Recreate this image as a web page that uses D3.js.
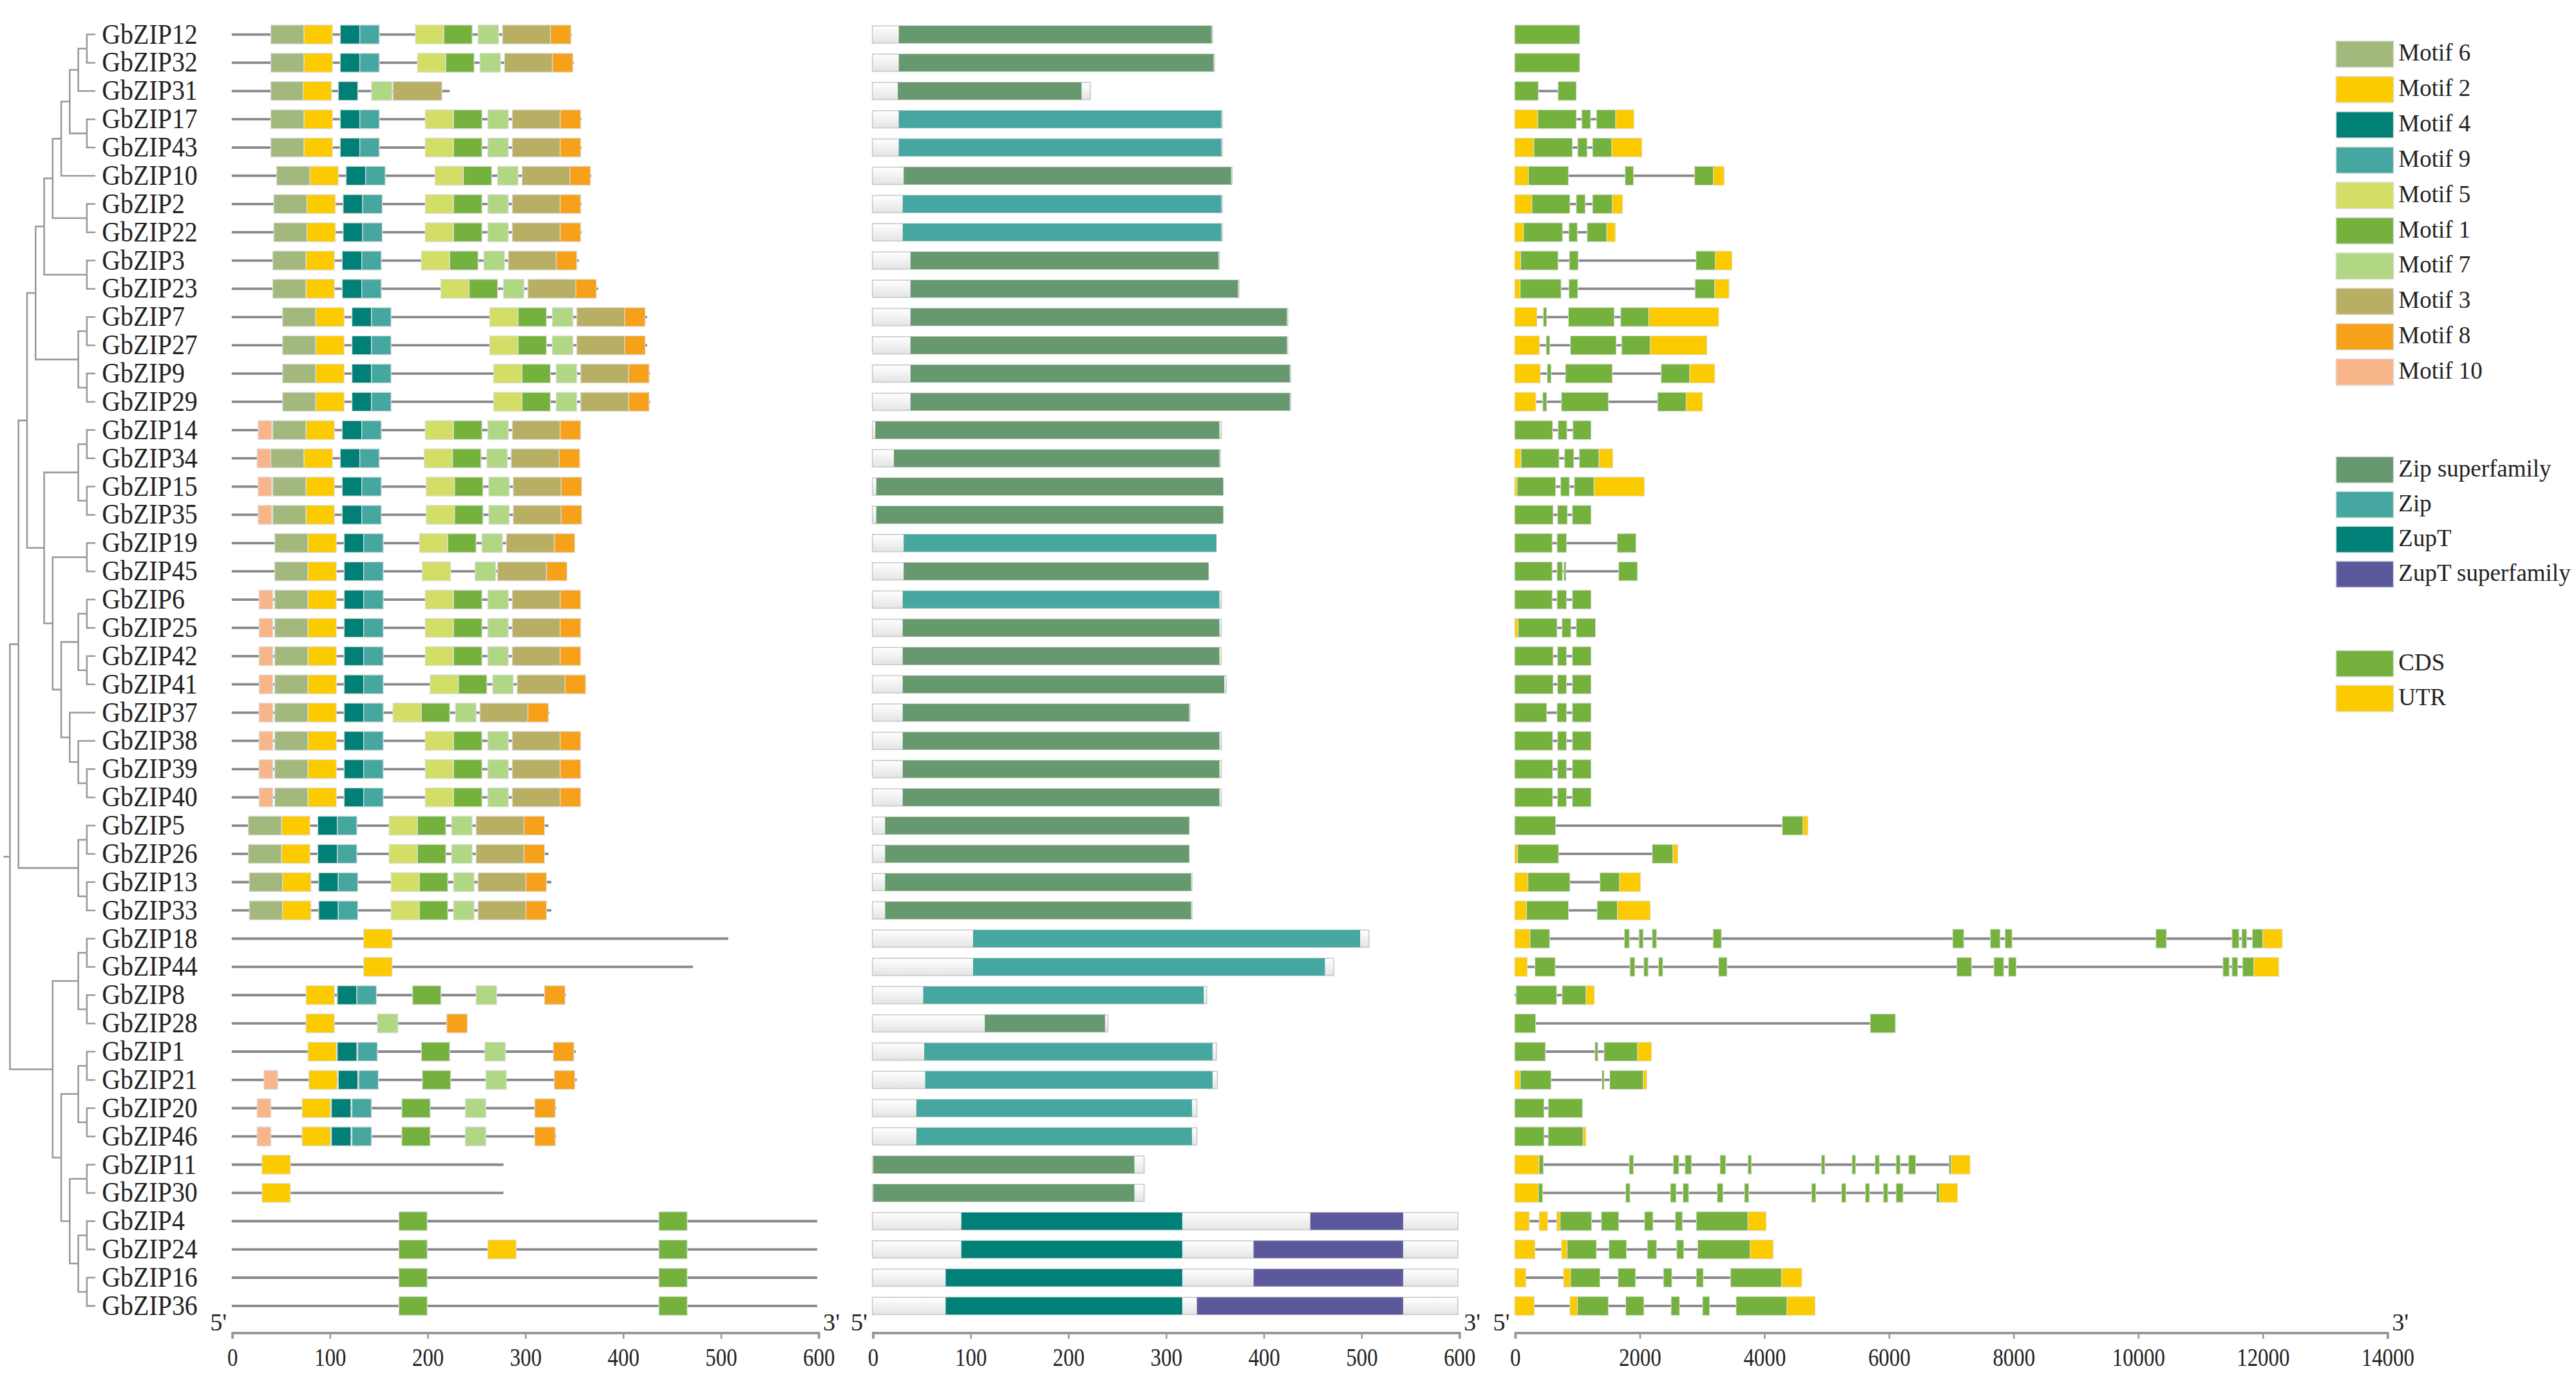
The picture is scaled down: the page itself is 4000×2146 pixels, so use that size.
<!DOCTYPE html>
<html>
<head>
<meta charset="utf-8">
<script src="https://cdn.jsdelivr.net/npm/d3@7"></script>
<style>
  body { margin: 0; background: #fff; }
  text { font-family: "Liberation Serif", "DejaVu Serif", serif; fill: #222; }
</style>
</head>
<body>
<script>
// rows, top to bottom (leaf order of the tree)
const genes = ["GbZIP12","GbZIP32","GbZIP31","GbZIP17","GbZIP43","GbZIP10","GbZIP2","GbZIP22","GbZIP3","GbZIP23",
  "GbZIP7","GbZIP27","GbZIP9","GbZIP29","GbZIP14","GbZIP34","GbZIP15","GbZIP35","GbZIP19","GbZIP45",
  "GbZIP6","GbZIP25","GbZIP42","GbZIP41","GbZIP37","GbZIP38","GbZIP39","GbZIP40","GbZIP5","GbZIP26",
  "GbZIP13","GbZIP33","GbZIP18","GbZIP44","GbZIP8","GbZIP28","GbZIP1","GbZIP21","GbZIP20","GbZIP46",
  "GbZIP11","GbZIP30","GbZIP4","GbZIP24","GbZIP16","GbZIP36"]

// tree topology (nested)
const treeA1 = [[[[["GbZIP12","GbZIP32"],"GbZIP31"],["GbZIP17","GbZIP43"]],"GbZIP10"],["GbZIP2","GbZIP22"]]
const treeA = [[treeA1,["GbZIP3","GbZIP23"]],[["GbZIP7","GbZIP27"],["GbZIP9","GbZIP29"]]]
const treeB = [[["GbZIP14","GbZIP34"],["GbZIP15","GbZIP35"]],[["GbZIP19","GbZIP45"],[[["GbZIP6","GbZIP25"],["GbZIP42","GbZIP41"]],["GbZIP37",["GbZIP38",["GbZIP39","GbZIP40"]]]]]]
const treeC = [["GbZIP5","GbZIP26"],["GbZIP13","GbZIP33"]]
const treeD = [[["GbZIP18","GbZIP44"],["GbZIP8","GbZIP28"]],[[["GbZIP1","GbZIP21"],["GbZIP20","GbZIP46"]],[["GbZIP11","GbZIP30"],[["GbZIP4","GbZIP24"],["GbZIP16","GbZIP36"]]]]]
const treeRoot = [[[treeA, treeB], treeC], treeD]

// motif legend
const motifNames = [6,2,4,9,5,1,7,3,8,10]
const motifColors = ["#a3b87c","#fbcb00","#008076","#45a7a0","#d3de66","#74b23d","#b0d784","#b8ae64","#f7a11a","#f9b58a"]
const motifWidth = {1:29, 2:29, 3:50, 4:20, 5:29, 6:34, 7:21, 8:21, 9:20, 10:14}

// protein length (aa)
const protLen = [348,350,223,358,358,368,358,358,355,375, 425,425,428,428,357,356,358,358,351,343,
  357,357,357,362,325,357,357,357,324,324, 327,327,508,472,342,241,352,353,332,332, 278,278,599,599,599,599]

// motif [id, start]
const motifs = [
  [[6,40],[2,74],[4,111],[9,131],[5,188],[1,217],[7,252],[3,277],[8,326]],
  [[6,40],[2,74],[4,111],[9,131],[5,190],[1,219],[7,254],[3,279],[8,328]],
  [[6,40],[2,73],[4,109],[7,143],[3,165]],
  [[6,40],[2,74],[4,111],[9,131],[5,198],[1,227],[7,262],[3,287],[8,336]],
  [[6,40],[2,74],[4,111],[9,131],[5,198],[1,227],[7,262],[3,287],[8,336]],
  [[6,46],[2,80],[4,117],[9,137],[5,208],[1,237],[7,272],[3,297],[8,346]],
  [[6,43],[2,77],[4,114],[9,134],[5,198],[1,227],[7,262],[3,287],[8,336]],
  [[6,43],[2,77],[4,114],[9,134],[5,198],[1,227],[7,262],[3,287],[8,336]],
  [[6,42],[2,76],[4,113],[9,133],[5,194],[1,223],[7,258],[3,283],[8,332]],
  [[6,42],[2,76],[4,113],[9,133],[5,214],[1,243],[7,278],[3,303],[8,352]],
  [[6,52],[2,86],[4,123],[9,143],[5,264],[1,293],[7,328],[3,353],[8,402]],
  [[6,52],[2,86],[4,123],[9,143],[5,264],[1,293],[7,328],[3,353],[8,402]],
  [[6,52],[2,86],[4,123],[9,143],[5,268],[1,297],[7,332],[3,357],[8,406]],
  [[6,52],[2,86],[4,123],[9,143],[5,268],[1,297],[7,332],[3,357],[8,406]],
  [[10,27],[6,42],[2,76],[4,113],[9,133],[5,198],[1,227],[7,262],[3,287],[8,336]],
  [[10,26],[6,40],[2,74],[4,111],[9,131],[5,197],[1,226],[7,261],[3,286],[8,335]],
  [[10,27],[6,42],[2,76],[4,113],[9,133],[5,199],[1,228],[7,263],[3,288],[8,337]],
  [[10,27],[6,42],[2,76],[4,113],[9,133],[5,199],[1,228],[7,263],[3,288],[8,337]],
  [[6,44],[2,78],[4,115],[9,135],[5,192],[1,221],[7,256],[3,281],[8,330]],
  [[6,44],[2,78],[4,115],[9,135],[5,195],[7,249],[3,272],[8,322]],
  [[10,28],[6,44],[2,78],[4,115],[9,135],[5,198],[1,227],[7,262],[3,287],[8,336]],
  [[10,28],[6,44],[2,78],[4,115],[9,135],[5,198],[1,227],[7,262],[3,287],[8,336]],
  [[10,28],[6,44],[2,78],[4,115],[9,135],[5,198],[1,227],[7,262],[3,287],[8,336]],
  [[10,28],[6,44],[2,78],[4,115],[9,135],[5,203],[1,232],[7,267],[3,292],[8,341]],
  [[10,28],[6,44],[2,78],[4,115],[9,135],[5,165],[1,194],[7,229],[3,254],[8,303]],
  [[10,28],[6,44],[2,78],[4,115],[9,135],[5,198],[1,227],[7,262],[3,287],[8,336]],
  [[10,28],[6,44],[2,78],[4,115],[9,135],[5,198],[1,227],[7,262],[3,287],[8,336]],
  [[10,28],[6,44],[2,78],[4,115],[9,135],[5,198],[1,227],[7,262],[3,287],[8,336]],
  [[6,17],[2,51],[4,88],[9,108],[5,161],[1,190],[7,225],[3,250],[8,299]],
  [[6,17],[2,51],[4,88],[9,108],[5,161],[1,190],[7,225],[3,250],[8,299]],
  [[6,18],[2,52],[4,89],[9,109],[5,163],[1,192],[7,227],[3,252],[8,301]],
  [[6,18],[2,52],[4,89],[9,109],[5,163],[1,192],[7,227],[3,252],[8,301]],
  [[2,135]],
  [[2,135]],
  [[2,76],[4,108],[9,128],[1,185],[7,250],[8,320]],
  [[2,76],[7,149],[8,220]],
  [[2,78],[4,108],[9,129],[1,194],[7,259],[8,329]],
  [[10,33],[2,79],[4,109],[9,130],[1,195],[7,260],[8,330]],
  [[10,26],[2,72],[4,102],[9,123],[1,174],[7,239],[8,310]],
  [[10,26],[2,72],[4,102],[9,123],[1,174],[7,239],[8,310]],
  [[2,31]],
  [[2,31]],
  [[1,171],[1,437]],
  [[1,171],[2,262],[1,437]],
  [[1,171],[1,437]],
  [[1,171],[1,437]]
]

// conserved domains
const domainNames = ["Zip superfamily","Zip","ZupT","ZupT superfamily"]
const domainColors = ["#66996e","#45a7a0","#008076","#5b599b"]
const domains = [
  [[0,27,347]],[[0,27,349]],[[0,26,214]],[[1,27,357]],[[1,27,357]],[[0,32,367]],[[1,31,357]],[[1,31,357]],
  [[0,39,354]],[[0,39,374]],[[0,39,424]],[[0,39,424]],[[0,39,427]],[[0,39,427]],
  [[0,3,355]],[[0,22,355]],[[0,4,359]],[[0,4,359]],[[1,32,352]],[[0,32,344]],
  [[1,31,355]],[[0,31,355]],[[0,31,355]],[[0,31,360]],[[0,31,324]],[[0,31,355]],[[0,31,355]],[[0,31,355]],
  [[0,13,324]],[[0,13,324]],[[0,13,326]],[[0,13,326]],
  [[1,103,499]],[[1,103,463]],[[1,52,339]],[[0,115,238]],[[1,53,348]],[[1,54,348]],[[1,45,327]],[[1,45,327]],
  [[0,1,268]],[[0,1,268]],
  [[2,91,317],[3,448,543]],[[2,91,317],[3,390,543]],[[2,75,317],[3,390,543]],[[2,75,317],[3,332,543]]
]

// gene structure: [type C=CDS U=UTR, start bp, end bp]
const structNames = ["CDS","UTR"]
const structColors = ["#74b23d","#fbcb00"]
const exons = [
  [["C",0,1044]],
  [["C",0,1044]],
  [["C",0,380],["C",696,989]],
  [["U",0,372],["C",372,989],["C",1076,1218],["C",1313,1622],["U",1622,1914]],
  [["U",0,308],["C",308,925],["C",1012,1163],["C",1250,1558],["U",1558,2041]],
  [["U",0,221],["C",221,862],["C",1772,1906],["C",2887,3188],["U",3188,3362]],
  [["U",0,277],["C",277,886],["C",989,1131],["C",1250,1566],["U",1566,1732]],
  [["U",0,142],["C",142,767],["C",870,1005],["C",1163,1479],["U",1479,1614]],
  [["U",0,95],["C",95,696],["C",878,1020],["C",2911,3219],["U",3219,3488]],
  [["U",0,87],["C",87,744],["C",870,1012],["C",2895,3211],["U",3211,3441]],
  [["U",0,356],["C",459,514],["C",862,1598],["C",1701,2152],["U",2152,3275]],
  [["U",0,396],["C",506,562],["C",894,1630],["C",1716,2175],["U",2175,3085]],
  [["U",0,411],["C",522,585],["C",815,1566],["C",2349,2808],["U",2808,3211]],
  [["U",0,340],["C",451,514],["C",751,1503],["C",2294,2753],["U",2753,3014]],
  [["C",0,609],["C",696,838],["C",933,1226]],
  [["U",0,103],["C",103,712],["C",799,949],["C",1036,1353],["U",1353,1574]],
  [["U",0,40],["C",40,657],["C",736,878],["C",957,1274],["U",1274,2080]],
  [["C",0,617],["C",688,846],["C",925,1226]],
  [["C",0,601],["C",680,831],["C",1645,1946]],
  [["C",0,601],["C",680,767],["C",791,815],["C",1669,1970]],
  [["C",0,601],["C",680,831],["C",925,1226]],
  [["U",0,55],["C",55,680],["C",759,902],["C",989,1297]],
  [["C",0,617],["C",688,831],["C",925,1226]],
  [["C",0,617],["C",688,831],["C",925,1226]],
  [["C",0,514],["C",680,831],["C",925,1226]],
  [["C",0,609],["C",688,831],["C",925,1226]],
  [["C",0,609],["C",688,831],["C",925,1226]],
  [["C",0,609],["C",688,831],["C",925,1226]],
  [["C",0,657],["C",4295,4627],["U",4627,4706]],
  [["U",0,47],["C",47,704],["C",2207,2539],["U",2539,2618]],
  [["U",0,213],["C",213,886],["C",1368,1682],["U",1682,2018]],
  [["U",0,190],["C",190,863],["C",1323,1648],["U",1648,2175]],
  [["U",0,247],["C",247,560],["C",1760,1840],["C",1995,2063],["C",2208,2276],["C",3184,3318],["C",7029,7208],
   ["C",7634,7791],["C",7870,7982],["C",10291,10460],["C",11513,11625],["C",11670,11749],["C",11839,12007],["U",12007,12320]],
  [["U",0,202],["C",325,650],["C",1850,1928],["C",2074,2141],["C",2309,2377],["C",3273,3408],["C",7096,7332],
   ["C",7691,7848],["C",7926,8049],["C",11368,11468],["C",11513,11603],["C",11682,11861],["U",11861,12265]],
  [["C",22,673],["C",762,1143],["U",1143,1278]],
  [["C",0,336],["C",5706,6110]],
  [["C",0,493],["C",1289,1334],["C",1435,1973],["U",1973,2197]],
  [["U",0,90],["C",90,583],["C",1401,1435],["C",1525,2063],["U",2063,2119]],
  [["C",0,471],["C",538,1087]],
  [["C",0,471],["C",538,1099],["U",1099,1143]],
  [["U",0,392],["C",392,460],["C",1839,1906],["C",2545,2635],["C",2735,2836],["C",3296,3386],["C",3744,3800],
   ["C",4922,4978],["C",5415,5471],["C",5785,5852],["C",6121,6188],["C",6323,6435],["C",6973,7007],["U",7007,7309]],
  [["U",0,381],["C",381,448],["C",1782,1850],["C",2500,2590],["C",2702,2791],["C",3251,3341],["C",3688,3756],
   ["C",4765,4832],["C",5247,5314],["C",5628,5695],["C",5919,5987],["C",6121,6233],["C",6771,6816],["U",6816,7108]],
  [["U",0,235],["U",392,527],["U",673,729],["C",729,1233],["C",1390,1670],["C",2085,2220],["C",2578,2690],["C",2915,3744],["U",3744,4036]],
  [["U",0,325],["U",751,841],["C",841,1312],["C",1513,1794],["C",2130,2276],["C",2601,2713],["C",2937,3778],["U",3778,4148]],
  [["U",0,179],["U",785,897],["C",897,1368],["C",1659,1939],["C",2388,2522],["C",2915,3027],["C",3464,4283],["U",4283,4608]],
  [["U",0,314],["U",886,1009],["C",1009,1502],["C",1782,2074],["C",2511,2646],["C",3016,3128],["C",3554,4372],["U",4372,4821]]
]

const aaTicks = [0,100,200,300,400,500,600]
const bpTicks = [0,2000,4000,6000,8000,10000,12000,14000]

// ---- drawing (viewBox in units of the reference at ~1568 px wide) ----
const W = 1568, H = 841.3
const svg = d3.select("body").append("svg")
  .attr("width", 4000).attr("height", 2146)
  .attr("viewBox", `0 0 ${W} ${H}`)

const y = d3.scalePoint().domain(genes).range([21, 795])
const boxH = 11.5
const xMotif = d3.scaleLinear().domain([0, 600]).range([141, 498])
const xDom = d3.scaleLinear().domain([0, 600]).range([531, 888])
const xGene = d3.scaleLinear().domain([0, 14000]).range([922, 1453])
const motifColor = d3.scaleOrdinal().domain(motifNames).range(motifColors)
const structColor = d3.scaleOrdinal().domain(["C","U"]).range(structColors)

// tree
function toHier(n) { return Array.isArray(n) ? { children: n.map(toHier) } : { name: n } }
const root = d3.hierarchy(toHier(treeRoot))
const xTree = d3.scaleLinear().domain([root.height, 0]).range([6, 58])
root.eachAfter(n => {
  n.px = xTree(n.height)
  n.py = n.children ? (n.children[0].py + n.children[n.children.length - 1].py) / 2 : y(n.data.name)
})
const tree = svg.append("g").attr("fill", "none").attr("stroke", "#999").attr("stroke-width", 1)
tree.selectAll("path")
  .data(root.links())
  .join("path")
  .attr("d", l => `M${l.source.px},${l.source.py}V${l.target.py}H${l.target.px}`)
tree.append("path").attr("d", `M${root.px - 4},${root.py}H${root.px}`)

svg.append("g").selectAll("text")
  .data(genes)
  .join("text")
  .attr("transform", d => `translate(62,${y(d) + 5.5}) scale(0.92,1)`)
  .attr("font-size", 17)
  .text(d => d)

// motif panel
const mRows = svg.append("g").selectAll("g")
  .data(genes)
  .join("g")
  .attr("transform", d => `translate(0,${y(d)})`)
mRows.append("line")
  .attr("x1", xMotif(0)).attr("x2", (d, i) => xMotif(protLen[i]))
  .attr("stroke", "#888").attr("stroke-width", 1.5)
mRows.selectAll("rect")
  .data((d, i) => motifs[i])
  .join("rect")
  .attr("x", m => xMotif(m[1]))
  .attr("width", m => xMotif(motifWidth[m[0]]) - xMotif(0))
  .attr("y", -boxH / 2).attr("height", boxH)
  .attr("fill", m => motifColor(m[0]))
  .attr("stroke", "#ddd").attr("stroke-width", 0.5)

// domain panel
const grad = svg.append("defs").append("linearGradient").attr("id", "bb").attr("x1", 0).attr("x2", 0).attr("y1", 0).attr("y2", 1)
grad.append("stop").attr("offset", 0).attr("stop-color", "#ffffff")
grad.append("stop").attr("offset", 1).attr("stop-color", "#e4e4e4")
const dRows = svg.append("g").selectAll("g")
  .data(genes)
  .join("g")
  .attr("transform", d => `translate(0,${y(d)})`)
dRows.append("rect")
  .attr("x", xDom(0)).attr("width", (d, i) => xDom(protLen[i]) - xDom(0))
  .attr("y", -boxH / 2 + 0.5).attr("height", boxH - 1)
  .attr("fill", "url(#bb)").attr("stroke", "#c8c8c8").attr("stroke-width", 0.6)
dRows.selectAll("rect.dom")
  .data((d, i) => domains[i])
  .join("rect")
  .attr("class", "dom")
  .attr("x", m => xDom(m[1])).attr("width", m => xDom(m[2]) - xDom(m[1]))
  .attr("y", -boxH / 2 + 0.5).attr("height", boxH - 1)
  .attr("fill", m => domainColors[m[0]])

// gene structure panel
const gRows = svg.append("g").selectAll("g")
  .data(genes)
  .join("g")
  .attr("transform", d => `translate(0,${y(d)})`)
gRows.append("line")
  .attr("x1", xGene(0)).attr("x2", (d, i) => xGene(d3.max(exons[i], e => e[2])))
  .attr("stroke", "#888").attr("stroke-width", 1.5)
gRows.selectAll("rect")
  .data((d, i) => exons[i])
  .join("rect")
  .attr("x", e => xGene(e[1]))
  .attr("width", e => Math.max(1.2, xGene(e[2]) - xGene(e[1])))
  .attr("y", -boxH / 2).attr("height", boxH)
  .attr("fill", e => structColor(e[0]))
  .attr("stroke", "#ddd").attr("stroke-width", 0.4)

// axes
const axisY = 811
function drawAxis(scale, ticks, fmt) {
  const g = svg.append("g").attr("transform", `translate(0,${axisY})`)
    .call(d3.axisBottom(scale).tickValues(ticks).tickFormat(fmt).tickSizeInner(4).tickSizeOuter(4).tickPadding(4))
  g.select(".domain").attr("stroke", "#999").attr("stroke-width", 1.5)
  g.selectAll(".tick line").attr("stroke", "#999")
  g.selectAll(".tick text").attr("font-size", 14).attr("font-family", "Liberation Serif").attr("fill", "#222")
    .attr("transform", "scale(0.92,1.15)")
  const r = scale.range()
  svg.append("text").attr("x", r[0] - 3).attr("y", axisY - 1).attr("text-anchor", "end").attr("font-size", 15).text("5'")
  svg.append("text").attr("x", r[1] + 3).attr("y", axisY - 1).attr("font-size", 15).text("3'")
}
drawAxis(xMotif, aaTicks, d3.format("d"))
drawAxis(xDom, aaTicks, d3.format("d"))
drawAxis(xGene, bpTicks, d3.format("d"))

// legend
const legendItems = motifNames.map((m, i) => ({ label: "Motif " + m, color: motifColors[i], y: 33 + i * 21.5 }))
  .concat(domainNames.map((n, i) => ({ label: n, color: domainColors[i], y: 286 + i * 21.2 })))
  .concat(structNames.map((n, i) => ({ label: n, color: structColors[i], y: 404 + i * 21.2 })))
const lg = svg.append("g").selectAll("g")
  .data(legendItems)
  .join("g")
  .attr("transform", d => `translate(1422,${d.y})`)
lg.append("rect").attr("x", 0).attr("y", -8).attr("width", 35).attr("height", 16)
  .attr("fill", d => d.color).attr("stroke", "#ddd").attr("stroke-width", 0.6)
lg.append("text").attr("x", 38).attr("y", 4).attr("font-size", 14.5).text(d => d.label)
</script>
</body>
</html>
